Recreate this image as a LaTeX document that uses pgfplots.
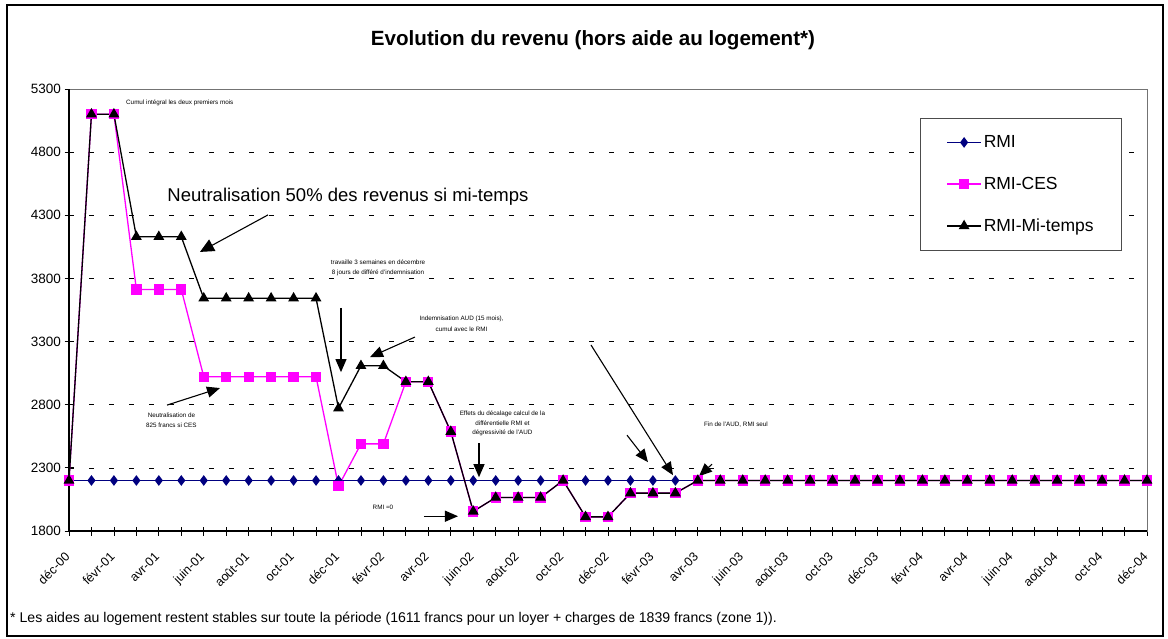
\documentclass[border=0pt]{standalone}
\usepackage{pgfplots}
\pgfplotsset{compat=1.18}
\usepackage{pgfplotstable}
\usepackage{fontspec}
\setmainfont{Liberation Sans}
\usetikzlibrary{arrows.meta}
\definecolor{rminavy}{RGB}{0,0,128}
\definecolor{cesmag}{RGB}{255,0,255}

\pgfplotstableread{
m rmi ces mi
0 2200 2200 2200
1 2200 5100 5100
2 2200 5100 5100
3 2200 3713 4130
4 2200 3713 4130
5 2200 3713 4130
6 2200 3022 3643
7 2200 3022 3643
8 2200 3022 3643
9 2200 3022 3643
10 2200 3022 3643
11 2200 3022 3643
12 2200 2155 2772
13 2200 2490 3108
14 2200 2490 3108
15 2200 2982 2982
16 2200 2982 2982
17 2200 2587 2587
18 2200 1955 1955
19 2200 2065 2065
20 2200 2065 2065
21 2200 2065 2065
22 2200 2200 2200
23 2200 1912 1912
24 2200 1912 1912
25 2200 2100 2100
26 2200 2100 2100
27 2200 2100 2100
28 2200 2200 2200
29 2200 2200 2200
30 2200 2200 2200
31 2200 2200 2200
32 2200 2200 2200
33 2200 2200 2200
34 2200 2200 2200
35 2200 2200 2200
36 2200 2200 2200
37 2200 2200 2200
38 2200 2200 2200
39 2200 2200 2200
40 2200 2200 2200
41 2200 2200 2200
42 2200 2200 2200
43 2200 2200 2200
44 2200 2200 2200
45 2200 2200 2200
46 2200 2200 2200
47 2200 2200 2200
48 2200 2200 2200
}\data

\begin{document}
\begin{tikzpicture}
\path[use as bounding box] (0pt,0pt) rectangle (1168pt,-639pt);
\draw[line width=1.2pt] (7pt,-5pt) rectangle (1163pt,-636pt);
\node[font=\bfseries\fontsize{20.6}{24}\selectfont, inner sep=0pt] at (593pt,-40pt) {Evolution du revenu (hors aide au logement*)};
\node[anchor=west, font=\fontsize{14.1}{16}\selectfont, inner sep=0pt] at (10pt,-619pt) {* Les aides au logement restent stables sur toute la période (1611 francs pour un loyer + charges de 1839 francs (zone 1)).};
\begin{axis}[
  at={(69pt,-531pt)}, anchor=south west,
  width=1078pt, height=442pt, scale only axis,
  xmin=0, xmax=48, ymin=1800, ymax=5300,
  ytick={1800,2300,...,5300},
  xtick={0,2,...,48}, minor xtick={1,3,...,47},
  xticklabels={déc-00,févr-01,avr-01,juin-01,août-01,oct-01,déc-01,févr-02,avr-02,juin-02,août-02,oct-02,déc-02,févr-03,avr-03,juin-03,août-03,oct-03,déc-03,févr-04,avr-04,juin-04,août-04,oct-04,déc-04},
  xtick pos=bottom, ytick pos=left,
  tick align=center, major tick length=9pt, minor tick length=9pt,
  tick style={black, line width=0.8pt},
  minor tick style={black, line width=0.8pt},
  ymajorgrids, major grid style={black, line width=0.7pt, dash pattern=on 4.5pt off 15.5pt},
  axis line style={black!55, line width=0.8pt},
  /pgf/number format/assume math mode=true,
  /pgf/number format/1000 sep={},
  yticklabel style={font=\fontsize{13.5}{15}\selectfont},
  xticklabel style={font=\fontsize{12.5}{14}\selectfont, yshift=-11pt, xshift=-5pt, rotate=45, anchor=north east},
  legend style={at={(0.7894,0.934)}, anchor=north west, draw=black!70, line width=1pt, fill=white,
    font=\fontsize{17.5}{18}\selectfont, inner xsep=26pt, inner ysep=15pt, row sep=24pt},
  legend cell align=left,
  legend image code/.code={\draw[mark repeat=2,mark phase=2,#1] plot coordinates {(0pt,0pt) (17pt,0pt) (34pt,0pt)};},
  clip=false,
]
\addplot[rminavy, line width=1.3pt, mark=diamond*, mark size=4.3pt, mark options={solid, fill=rminavy}] table[x=m,y=rmi]{\data};
\addplot[cesmag, line width=1.3pt, mark=square*, mark size=4.5pt, mark options={solid, fill=cesmag}] table[x=m,y=ces]{\data};
\addplot[black, line width=1.3pt, mark=triangle*, mark size=5pt, mark options={solid, fill=black}] table[x=m,y=mi]{\data};
\legend{RMI,RMI-CES,RMI-Mi-temps}

\draw[black, line width=1.3pt] (rel axis cs:0,1) -- (rel axis cs:0,0) -- (rel axis cs:1,0);

% annotations
\begin{scope}[every node/.style={inner sep=0pt, font=\fontsize{6.3}{7}\selectfont}]
\node[anchor=west] at (axis cs:2.538,5191) {Cumul intégral les deux premiers mois};
\node[anchor=west, font=\fontsize{18.5}{20}\selectfont] at (axis cs:4.377,4446) {Neutralisation 50\% des revenus si mi-temps};
\node at (axis cs:13.76,3931) {travaille 3 semaines en décembre};
\node at (axis cs:13.76,3843) {8 jours de différé d'indemnisation};
\node at (axis cs:17.48,3479) {Indemnisation AUD (15 mois),};
\node at (axis cs:17.48,3396) {cumul avec le RMI};
\node at (axis cs:4.56,2720) {Neutralisation de};
\node at (axis cs:4.56,2638) {825 francs si CES};
\node at (axis cs:19.30,2731) {Effets du décalage calcul de la};
\node at (axis cs:19.30,2656) {différentielle RMI et};
\node at (axis cs:19.30,2577) {dégressivité de l'AUD};
\node at (axis cs:13.98,1986) {RMI =0};
\node at (axis cs:29.70,2644) {Fin de l'AUD, RMI seul};
\end{scope}
\begin{scope}[line width=1.1pt, black]
\draw[-{Triangle[length=14pt,width=13pt]}] (axis cs:8.861,4303) -- (axis cs:5.833,4010);
\draw[-{Triangle[length=13pt,width=11pt]}] (axis cs:12.111,3566) -- (axis cs:12.111,3058);
\draw[-{Triangle[length=13pt,width=11pt]}] (axis cs:15.406,3336) -- (axis cs:13.403,3177);
\draw[-{Triangle[length=13pt,width=11pt]}] (axis cs:4.364,2797) -- (axis cs:6.724,2932);
\draw[-{Triangle[length=13pt,width=11pt]}] (axis cs:18.256,2495) -- (axis cs:18.256,2226);
\draw[-{Triangle[length=13pt,width=11pt]}] (axis cs:15.807,1917) -- (axis cs:17.321,1917);
\draw[-{Triangle[length=13pt,width=11pt]}] (axis cs:23.243,3273) -- (axis cs:26.894,2242);
\draw[-{Triangle[length=13pt,width=11pt]}] (axis cs:24.846,2559) -- (axis cs:25.781,2345);
\draw[-{Triangle[length=13pt,width=11pt]}] (axis cs:28.631,2329) -- (axis cs:28.052,2234);
\end{scope}
\end{axis}
\end{tikzpicture}
\end{document}
